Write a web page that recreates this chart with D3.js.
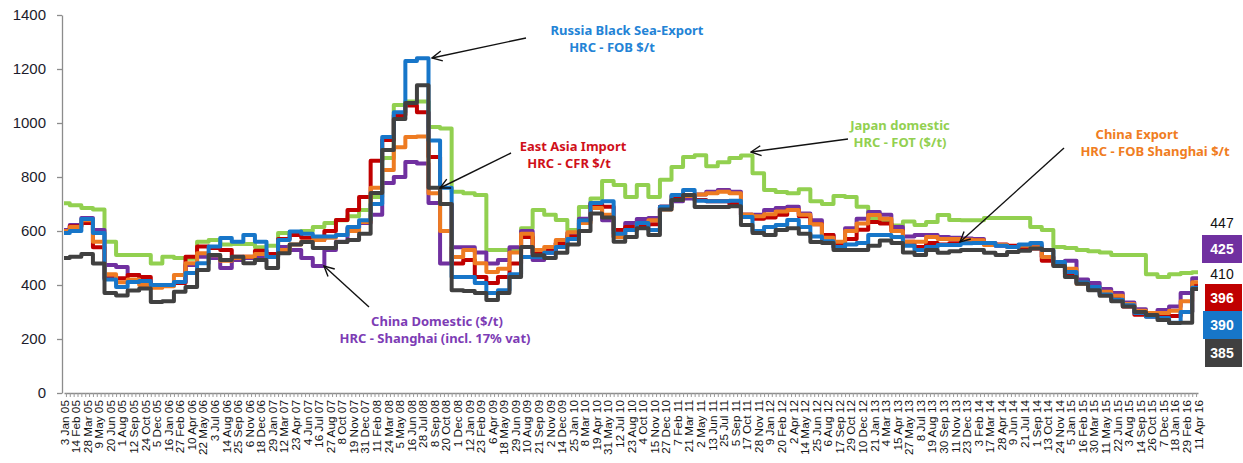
<!DOCTYPE html>
<html lang="en">
<head>
<meta charset="UTF-8">
<title>HRC prices 2005-2016</title>
<script src="https://cdn.jsdelivr.net/npm/d3@7"></script>
<style>
  body { margin: 0; background: #fff; }
  svg text { font-family: "Liberation Sans", Arial, sans-serif; }
  .note { font-family: "Noto Sans", sans-serif !important; font-weight: bold; font-size: 13px; }
</style>
</head>
<body>
<div id="chart"></div>
<script>
// tick labels = sample dates (every 6 weeks)
var labels = ["3 Jan 05","14 Feb 05","28 Mar 05","9 May 05","20 Jun 05","1 Aug 05","12 Sep 05","24 Oct 05","5 Dec 05","16 Jan 06",
  "27 Feb 06","10 Apr 06","22 May 06","3 Jul 06","14 Aug 06","25 Sep 06","6 Nov 06","18 Dec 06","29 Jan 07","12 Mar 07",
  "23 Apr 07","4 Jun 07","16 Jul 07","27 Aug 07","8 Oct 07","19 Nov 07","31 Dec 07","11 Feb 08","24 Mar 08","5 May 08",
  "16 Jun 08","28 Jul 08","8 Sep 08","20 Oct 08","1 Dec 08","12 Jan 09","23 Feb 09","6 Apr 09","18 May 09","29 Jun 09",
  "10 Aug 09","21 Sep 09","2 Nov 09","14 Dec 09","25 Jan 10","8 Mar 10","19 Apr 10","31 May 10","12 Jul 10","23 Aug 10",
  "4 Oct 10","15 Nov 10","27 Dec 10","7 Feb 11","21 Mar 11","2 May 11","13 Jun 11","25 Jul 11","5 Sep 11","17 Oct 11",
  "28 Nov 11","9 Jan 12","20 Feb 12","2 Apr 12","14 May 12","25 Jun 12","6 Aug 12","17 Sep 12","29 Oct 12","10 Dec 12",
  "21 Jan 13","4 Mar 13","15 Apr 13","27 May 13","8 Jul 13","19 Aug 13","30 Sep 13","11 Nov 13","23 Dec 13","3 Feb 14",
  "17 Mar 14","28 Apr 14","9 Jun 14","21 Jul 14","1 Sep 14","13 Oct 14","24 Nov 14","5 Jan 15","16 Feb 15","30 Mar 15",
  "11 May 15","22 Jun 15","3 Aug 15","14 Sep 15","26 Oct 15","7 Dec 15","18 Jan 16","29 Feb 16","11 Apr 16"];

var yTicks = [0, 200, 400, 600, 800, 1000, 1200, 1400];

// Japan domestic HRC - FOT
var japan = [703,695,685,680,560,511,511,511,480,505, 500,497,560,567,550,552,552,540,545,593,
  590,600,615,630,640,655,678,726,870,1067, 1080,1080,985,980,745,740,733,530,530,530,
  610,678,660,641,604,689,720,785,770,726, 770,726,790,837,874,881,840,855,870,880,
  814,752,744,740,755,710,700,730,726,690, 648,641,620,635,622,633,659,641,640,640,
  648,648,648,648,615,604,541,537,530,525, 520,511,511,511,440,430,440,444,447];

// China domestic HRC - Shanghai
var chinaDom = [604,622,648,604,474,467,437,407,393,400,410,474,505,500,463,493,500,
  504,504,541,530,500,470,530,560,610,630,660,778,800,856,850,704,480,
  540,540,520,480,493,540,600,493,519,556,593,645,704,640,578,630,
  644,648,690,710,720,735,745,752,745,660,660,678,685,690,665,640,585,
  540,610,645,670,660,615,580,585,585,578,575,572,570,550,545,541,
  548,545,504,480,490,420,407,385,370,335,310,296,307,320,370,425];

// East Asia import HRC - CFR
var eastAsia = [600,618,630,540,425,425,437,430,393,400,407,505,543,537,530,505,505,
  527,515,570,585,575,567,600,641,678,726,860,937,1030,1065,1040,874,700,
  480,493,430,407,430,480,578,519,530,556,580,640,700,690,604,615,
  615,625,690,730,730,715,710,710,700,660,645,650,660,678,655,625,585,
  556,570,605,633,628,600,560,541,556,550,555,565,565,555,550,545,
  541,535,490,474,440,410,390,370,350,320,290,283,282,285,300,396];

// China export HRC - FOB Shanghai
var chinaExp = [600,615,640,560,440,410,420,400,390,395,437,481,518,510,490,500,505,
  515,504,530,550,560,567,575,585,600,633,760,826,910,948,950,740,600,
  504,530,481,448,460,520,590,530,541,567,595,630,685,660,578,604,
  630,640,680,715,730,735,740,745,740,660,655,662,672,678,660,625,575,
  560,600,628,659,645,600,560,560,578,570,570,568,566,548,548,541,
  545,540,504,481,460,405,390,375,360,330,305,296,296,305,340,410];

// Russia Black Sea export HRC - FOB
var russia = [593,600,644,593,420,393,411,415,400,400,411,444,481,543,574,560,585,
  560,504,567,598,590,580,580,585,615,640,700,948,1040,1230,1240,935,760,
  430,430,407,370,381,440,504,504,519,541,570,640,704,710,590,604,
  630,604,690,733,752,712,710,710,712,652,600,615,622,641,615,580,562,
  541,550,556,585,585,578,545,530,541,548,548,555,556,556,545,541,
  550,556,530,485,448,410,393,365,345,325,296,282,278,260,300,390];

// unlabelled dark grey series
var other = [500,505,515,480,370,361,380,387,337,340,375,393,456,511,493,505,481,
  493,463,518,550,559,537,537,559,567,590,741,900,1015,1074,1140,760,700,
  381,378,370,344,370,430,541,510,500,519,550,600,665,650,560,578,
  610,585,680,715,733,689,689,689,692,622,593,585,604,610,590,559,556,
  530,530,530,545,565,556,520,511,530,519,525,530,530,519,511,522,
  527,535,530,470,430,405,381,360,340,320,300,289,270,259,260,385];

var parse = d3.timeParse("%d %b %y");
var dates = labels.map(parse);

var series = [
  {key: "japan", values: japan, color: "#92D050"},
  {key: "chinaDom", values: chinaDom, color: "#7030A0"},
  {key: "eastAsia", values: eastAsia, color: "#C00000"},
  {key: "chinaExp", values: chinaExp, color: "#EE7B22"},
  {key: "russia", values: russia, color: "#1776C9"},
  {key: "other", values: other, color: "#404040"}
];

var width = 1243, height = 463;
var svg = d3.select("#chart").append("svg")
  .attr("width", width).attr("height", height);

var x = d3.scaleTime().domain(d3.extent(dates)).range([64, 1198]);
var y = d3.scaleLinear().domain([0, 1400]).range([393, 15]);

// y axis
var yAxis = svg.append("g")
  .attr("transform", "translate(62,0)")
  .call(d3.axisLeft(y).tickValues(yTicks).tickFormat(d3.format("d")).tickSize(5).tickPadding(11).tickSizeOuter(0));
yAxis.select(".domain").attr("stroke", "#8c8c8c").attr("stroke-width", 1.3);
yAxis.selectAll(".tick line").attr("stroke", "#8c8c8c").attr("stroke-width", 1.3);
yAxis.selectAll("text").style("font-size", "15px").attr("fill", "#1c1c2c");

// x axis: minor ticks every two weeks, labels every six weeks
var minor = d3.timeMonday.every(2).range(dates[0], d3.timeDay.offset(dates[dates.length - 1], 1));
svg.append("g")
  .attr("transform", "translate(0,393)")
  .call(d3.axisBottom(x).tickValues(minor).tickSize(4).tickFormat("").tickSizeOuter(0))
  .call(function(g) {
    g.select(".domain").attr("stroke", "#8c8c8c").attr("stroke-width", 1.3);
    g.selectAll(".tick line").attr("stroke", "#9a9a9a").attr("stroke-width", 1);
  });

var xAxis = svg.append("g")
  .attr("transform", "translate(0,393)")
  .call(d3.axisBottom(x).tickValues(dates).tickSize(0).tickFormat(function(d, i) { return labels[i]; }));
xAxis.select(".domain").remove();
xAxis.selectAll("text")
  .attr("transform", "rotate(-90)")
  .attr("text-anchor", "end")
  .attr("x", -7).attr("y", 0).attr("dy", "0.35em")
  .style("font-size", "11.8px").attr("fill", "#111");

// lines
var line = d3.line()
  .x(function(d) { return x(d.date); })
  .y(function(d) { return y(d.v); })
  .curve(d3.curveStep);

series.forEach(function(s) {
  svg.append("path")
    .datum(s.values.map(function(v, i) { return {date: dates[i], v: v}; }))
    .attr("fill", "none")
    .attr("stroke", s.color)
    .attr("stroke-width", 4)
    .attr("stroke-linejoin", "round")
    .attr("d", line);
});

// annotations
svg.append("defs").append("marker")
  .attr("id", "arrow")
  .attr("viewBox", "0 0 12 12")
  .attr("refX", 11).attr("refY", 6)
  .attr("markerWidth", 12).attr("markerHeight", 12)
  .attr("markerUnits", "userSpaceOnUse")
  .attr("orient", "auto")
  .append("path")
  .attr("d", "M1,1 L11,6 L1,11")
  .attr("fill", "none").attr("stroke", "#111").attr("stroke-width", 1.4);

var notes = [
  {lines: ["Russia Black Sea-Export", "HRC - FOB $/t"], cx: [627, 612], ty: 30, color: "#2383D6", from: [526, 38], to: [432, 58]},
  {lines: ["East Asia Import", "HRC - CFR $/t"], cx: [573, 569], ty: 146, color: "#D0101A", from: [511, 153], to: [440, 188]},
  {lines: ["Japan domestic", "HRC - FOT ($/t)"], cx: [900, 900], ty: 125, color: "#92D050", from: [848, 139], to: [751, 152]},
  {lines: ["China Export", "HRC - FOB Shanghai $/t"], cx: [1137, 1155], ty: 134, color: "#F07D22", from: [1064, 148], to: [960, 242]},
  {lines: ["China Domestic ($/t)", "HRC - Shanghai (incl. 17% vat)"], cx: [437, 435], ty: 321, color: "#7D3CB5", from: [369, 307], to: [324, 266]}
];

notes.forEach(function(n) {
  svg.append("line")
    .attr("x1", n.from[0]).attr("y1", n.from[1])
    .attr("x2", n.to[0]).attr("y2", n.to[1])
    .attr("stroke", "#111").attr("stroke-width", 1.4)
    .attr("marker-end", "url(#arrow)");
  n.lines.forEach(function(t, i) {
    svg.append("text")
      .attr("class", "note")
      .attr("x", n.cx[i]).attr("y", n.ty + i * 17)
      .attr("text-anchor", "middle")
      .attr("dy", "0.35em")
      .attr("fill", n.color)
      .text(t);
  });
});

// end value labels
var ends = [
  {values: japan, y: 223, box: null},
  {values: chinaDom, y: 249, box: "#7030A0", x0: 1202},
  {values: chinaExp, y: 274, box: null},
  {values: eastAsia, y: 298, box: "#C00000", x0: 1205},
  {values: russia, y: 325, box: "#1776C9", x0: 1203},
  {values: other, y: 353, box: "#404040", x0: 1205}
];

ends.forEach(function(e) {
  var v = e.values[e.values.length - 1];
  if (e.box) {
    svg.append("rect")
      .attr("x", e.x0).attr("y", e.y - 14)
      .attr("width", 1242 - e.x0).attr("height", 28)
      .attr("fill", e.box);
  }
  svg.append("text")
    .attr("x", 1222).attr("y", e.y)
    .attr("dy", "0.35em")
    .attr("text-anchor", "middle")
    .style("font-size", "14px")
    .style("font-weight", e.box ? "bold" : "normal")
    .attr("fill", e.box ? "#fff" : "#111")
    .text(v);
});
</script>
</body>
</html>
